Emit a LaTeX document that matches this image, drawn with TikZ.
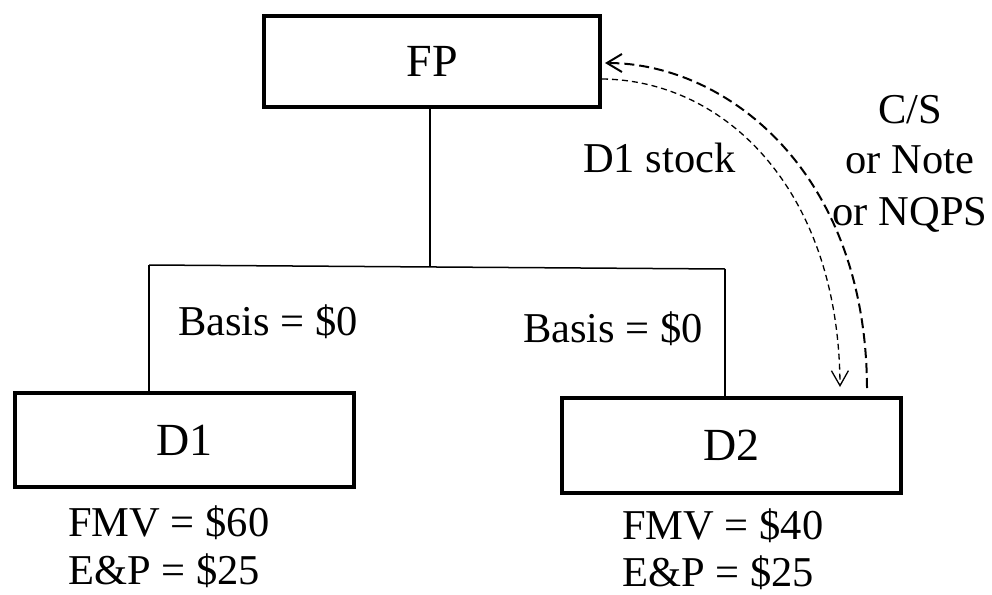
\documentclass[tikz,border=0pt]{standalone}
\usepackage{fontspec}
\setmainfont{Liberation Serif}
\usetikzlibrary{arrows.meta}
\begin{document}
\begin{tikzpicture}[x=1pt,y=-1pt,
  entity/.style={draw,line width=4pt,minimum width=339pt,minimum height=94pt,
    inner sep=0pt,font=\fontsize{46}{52}\selectfont},
  lbl/.style={inner sep=0pt,anchor=base west,font=\fontsize{42.5}{48}\selectfont},
  clbl/.style={inner sep=0pt,anchor=base,font=\fontsize{42.5}{48}\selectfont},
  tree/.style={line width=1.5pt},
  outflow/.style={line width=2pt,dash pattern=on 10pt off 5pt,
    -{Straight Barb[length=15pt,width=18pt]}},
  inflow/.style={line width=1.3pt,dash pattern=on 6pt off 4pt,
    -{Straight Barb[length=15pt,width=17pt]}}]
\useasboundingbox (0,0) rectangle (992,594);

% corporations
\node[entity,minimum width=336pt,minimum height=91pt] (FP) at (432,61.5) {FP};
\node[entity] (D1) at (184.5,440) {D1};
\node[entity,minimum height=95pt] (D2) at (731.5,445.5) {D2};

% ownership tree
\coordinate (hub) at (430,267);
\coordinate (L) at (149,265);
\coordinate (R) at (725,269);
\draw[tree] (FP.south -| hub) -- (hub);
\draw[tree] (L) -- (R);
\draw[tree] (L) -- (L |- D1.north);
\draw[tree] (R) -- (R |- D2.north);

% exchange of consideration
\draw[outflow] ([xshift=135.5pt,yshift=8pt]D2.north)
  .. controls (866,170) and (725,63) .. ([xshift=3pt,yshift=-1.5pt]FP.east);
\draw[inflow] ([yshift=-17.5pt]FP.east)
  .. controls (725,80) and (839,190) .. ([xshift=108.5pt,yshift=9pt]D2.north);

% labels
\node[lbl] (b1) at (178,335) {Basis = \$0};
\node[lbl] (b2) at (523,342) {Basis = \$0};
\node[lbl] (stk) at (583,172) {D1 stock};
\node[clbl] (c1) at (910,123) {C/S};
\node[clbl] (c2) at (910,173) {or Note};
\node[clbl] (c3) at (910,225) {or NQPS};
\node[lbl] (f1) at (68,536) {FMV = \$60};
\node[lbl] (e1) at (68,584) {E\&P = \$25};
\node[lbl] (f2) at (622,539) {FMV = \$40};
\node[lbl] (e2) at (622,586) {E\&P = \$25};
\end{tikzpicture}
\end{document}
